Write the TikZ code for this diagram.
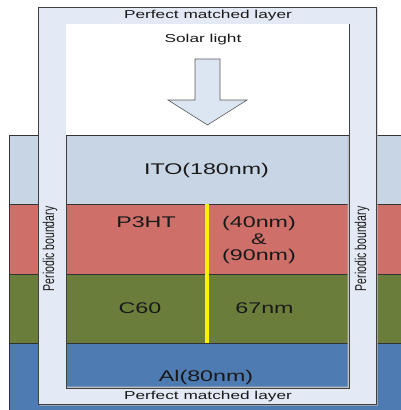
\documentclass[tikz,border=0pt]{standalone}
\usepackage{fontspec}
\setmainfont{Liberation Sans}
% horizontally widened lettering, as used for every label
\newcommand{\widetext}[1]{\scalebox{1.5}[1]{#1}}
\newcommand{\tallside}[1]{\scalebox{1}[1.5]{#1}}
\begin{document}
\begin{tikzpicture}[x=1pt,y=-1pt,
  edge/.style={draw=black!80,line width=0.7pt},
  pml/.style={fill=pmlblue,draw=black!75,line width=0.7pt},
  lbl/.style={inner sep=0pt,text=black!90},
  small/.style={lbl,font=\fontsize{11.5}{13}\selectfont},
  big/.style={lbl,font=\fontsize{15.5}{17}\selectfont}]
\definecolor{pmlblue}{HTML}{E4EAF5}
\definecolor{itoc}{HTML}{C8D5E5}
\definecolor{p3htc}{HTML}{CE7069}
\definecolor{c60c}{HTML}{6A7D3B}
\definecolor{alc}{HTML}{4E7BB1}
\definecolor{arrowc}{HTML}{DCE5F2}
\useasboundingbox (0,0) rectangle (401,410);
\fill[white] (0,0) rectangle (401,410);
% material stack
\fill[itoc] (9,135) rectangle (401,204);
\fill[p3htc] (9,204) rectangle (401,274);
\fill[c60c] (9,274) rectangle (401,343);
\fill[alc] (9,343) rectangle (401,410);
\draw[edge] (401,135) -- (9,135) -- (9,410);
\draw[edge] (9,204) -- (401,204);
\draw[edge] (9,274) -- (401,274);
\draw[edge] (9,343) -- (401,343);
% PML frame with a soft shadow
\fill[black!25,even odd rule] (39.5,8.5) rectangle (377.5,405.5) (64.5,22.5) rectangle (347.5,386.5);
\path[pml,even odd rule] (38,7) rectangle (376,404) (66,24) rectangle (349,388);
\fill[white] (66,24) rectangle (349,135);
\draw[edge] (66,135) -- (349,135);
% incident light arrow
\draw[fill=arrowc,draw=black!65,line width=0.6pt]
  (195,59) -- (220,59) -- (220,100) -- (247,100) -- (207.5,125) -- (168,100) -- (195,100) -- cycle;
% interface between donor and acceptor
\coordinate (ifTop) at (207,204);
\coordinate (ifBot) at (207,343);
\draw[yellow,line width=3.4pt] (ifTop) -- (ifBot);
% labels
\node[small] (pmlTop) at (208,16) {\widetext{Perfect matched layer}};
\node[small] (pmlBot) at (208,397) {\widetext{Perfect matched layer}};
\node[small] (solar) at (203,40) {\widetext{Solar light}};
\node[big] (ito) at (206.5,170) {\widetext{ITO(180nm)}};
\node[big] (p3ht) at (146,222) {\widetext{P3HT}};
\node[big] (thickA) at (259,223) {\widetext{(40nm)}};
\node[big] (amp) at (259,239) {\widetext{\&}};
\node[big] (thickB) at (259,256) {\widetext{(90nm)}};
\node[big] (c60) at (140,308) {\widetext{C60}};
\node[big] (c60t) at (264.5,308) {\widetext{67nm}};
\node[big] (al) at (206,377) {\widetext{Al(80nm)}};
\node[lbl,font=\fontsize{10.5}{12}\selectfont,rotate=90] (pbL) at (50,249) {\tallside{Periodic boundary}};
\node[lbl,font=\fontsize{10.5}{12}\selectfont,rotate=90] (pbR) at (362,249) {\tallside{Periodic boundary}};
\end{tikzpicture}
\end{document}
